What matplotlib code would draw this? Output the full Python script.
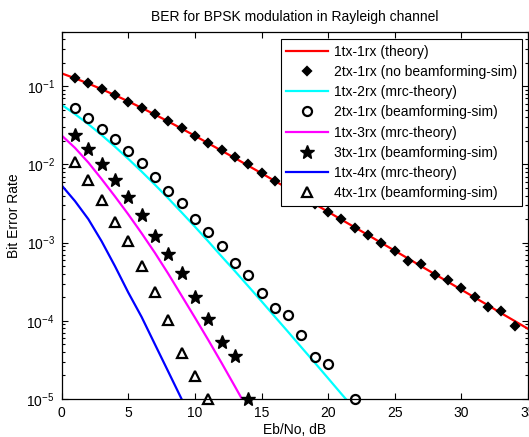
#!/usr/bin/env python3
"""BER for BPSK modulation in Rayleigh channel (beamforming vs MRC)."""

import matplotlib

matplotlib.use("Agg")
import matplotlib.pyplot as plt
import numpy as np
from matplotlib.ticker import LogLocator, NullFormatter


# Eb/No grid (dB) for the theory curves and the simulated points
EBNO_THEORY = list(range(0, 36))
EBNO_SIM = list(range(1, 35))
EBNO_SHORT = list(range(1, 23))

theory_1rx = [
    0.1464, 0.1267, 0.1085, 0.0919, 0.0771, 0.0642, 0.0530, 0.0435, 0.0355,
    0.0288, 0.0233, 0.0187, 0.0150, 0.0121, 0.00966, 0.00772, 0.00616,
    0.00491, 0.00391, 0.00312, 0.00248, 0.00197, 0.00157, 0.00125, 0.000992,
    0.000789, 0.000627, 0.000498, 0.000396, 0.000315, 0.000250, 0.000199,
    0.000158, 0.000125, 0.0000995, 0.0000791,
]
sim_no_bf = [
    0.129, 0.109, 0.0917, 0.0773, 0.0630, 0.0533, 0.0438, 0.0359, 0.0290,
    0.0232, 0.0186, 0.0151, 0.0126, 0.0100, 0.00767, 0.00611, 0.00495,
    0.00388, 0.00315, 0.00247, 0.00199, 0.00155, 0.00126, 0.00098, 0.000773,
    0.000587, 0.000538, 0.000389, 0.000329, 0.000262, 0.000199, 0.000150,
    0.000134, 0.0000863,
]
theory_2rx = [
    0.0580, 0.0441, 0.0328, 0.0238, 0.0169, 0.0118, 0.00813, 0.00551,
    0.00369, 0.00244, 0.00160, 0.00104, 0.000668, 0.000433, 0.000278,
    0.000178, 0.000113, 0.0000721, 0.0000457, 0.0000291, 0.0000184,
    0.0000116, 0.00000739,
]
theory_3rx = [
    0.0235, 0.0163, 0.0106, 0.0065, 0.0039, 0.0023, 0.00132, 0.00074,
    0.00040, 0.00021, 0.00011, 0.000057, 0.000029, 0.0000145, 0.0000072,
]
theory_4rx = [
    0.0054, 0.0034, 0.0020, 0.00104, 0.00050, 0.00023, 0.000112, 0.000050,
    0.0000224, 0.0000100, 0.0000045,
]
# beamforming simulations; NaN where no error was counted
sim_bf_2tx = [
    0.0533, 0.0397, 0.0287, 0.0210, 0.0148, 0.0105, 0.00695, 0.00464,
    0.00323, 0.00203, 0.00137, 0.000897, 0.000550, 0.000389, 0.000229,
    0.000146, 0.000117, 0.0000662, 0.0000343, 0.0000281, np.nan, 0.00001,
]
sim_bf_3tx = [
    0.0236, 0.0156, 0.0100, 0.00624, 0.00381, 0.00224, 0.00121, 0.000723,
    0.000409, 0.000201, 0.000106, 0.0000533, 0.0000359, 0.00001,
]
sim_bf_4tx = [
    0.0107, 0.00624, 0.00356, 0.00186, 0.00106, 0.000497, 0.000231,
    0.000103, 0.0000393, 0.0000197, 0.00001,
]


def main() -> None:
    plt.rcParams["font.family"] = ["Liberation Sans", "DejaVu Sans"]
    plt.rcParams["mathtext.default"] = "regular"
    fig = plt.figure(figsize=(5.29, 4.37), dpi=100)
    ax = fig.add_axes([0.1166, 0.087, 0.8814, 0.8405])

    lw = 1.6
    mk = dict(linestyle="none", color="k", markeredgewidth=1.6, clip_on=False)
    ax.semilogy(EBNO_THEORY, theory_1rx, color="#ff0000", lw=lw,
                label="1tx-1rx (theory)")
    ax.semilogy(EBNO_SIM, sim_no_bf, marker="D", markersize=4.5,
                label="2tx-1rx (no beamforming-sim)", **mk)
    ax.semilogy(EBNO_THEORY[:len(theory_2rx)], theory_2rx, color="#00ffff",
                lw=lw, label="1tx-2rx (mrc-theory)")
    ax.semilogy(EBNO_SHORT, sim_bf_2tx, marker="o", markersize=6.5,
                markerfacecolor="none", label="2tx-1rx (beamforming-sim)", **mk)
    ax.semilogy(EBNO_THEORY[:len(theory_3rx)], theory_3rx, color="#ff00ff",
                lw=lw, label="1tx-3rx (mrc-theory)")
    ax.semilogy(EBNO_SHORT[:len(sim_bf_3tx)], sim_bf_3tx, marker="*",
                markersize=10, markeredgewidth=1.0, linestyle="none", color="k",
                clip_on=False, label="3tx-1rx (beamforming-sim)")
    ax.semilogy(EBNO_THEORY[:len(theory_4rx)], theory_4rx, color="#0000ff",
                lw=lw, label="1tx-4rx (mrc-theory)")
    ax.semilogy(EBNO_SHORT[:len(sim_bf_4tx)], sim_bf_4tx, marker="^",
                markersize=6.5, markerfacecolor="none",
                label="4tx-1rx (beamforming-sim)", **mk)

    ax.set_xlim(0, 35)
    ax.set_ylim(1e-5, 0.5)
    ax.set_xticks(range(0, 36, 5))
    ax.yaxis.set_major_locator(LogLocator(base=10, numticks=10))
    ax.yaxis.set_minor_locator(LogLocator(base=10, subs=np.arange(2, 10), numticks=10))
    ax.yaxis.set_minor_formatter(NullFormatter())
    ax.tick_params(which="both", direction="in", top=True, right=True,
                   labelsize=10, width=0.8)
    ax.tick_params(which="major", length=4, pad=5)
    ax.tick_params(which="minor", length=2.5)
    for spine in ax.spines.values():
        spine.set_linewidth(0.9)

    ax.set_title("BER for BPSK modulation in Rayleigh channel", fontsize=10, pad=8)
    ax.set_xlabel("Eb/No, dB", fontsize=10, labelpad=2)
    ax.set_ylabel("Bit Error Rate", fontsize=10, labelpad=4)

    leg = ax.legend(loc="upper right", bbox_to_anchor=(0.988, 0.980),
                    borderaxespad=0, fontsize=10, handlelength=3.0,
                    handletextpad=0.4, labelspacing=0.45, borderpad=0.4,
                    fancybox=False, framealpha=1, edgecolor="k")
    leg.get_frame().set_linewidth(0.8)
    leg.set_zorder(5)

    fig.savefig("out.png", dpi=100)
    plt.close(fig)


if __name__ == "__main__":
    main()
